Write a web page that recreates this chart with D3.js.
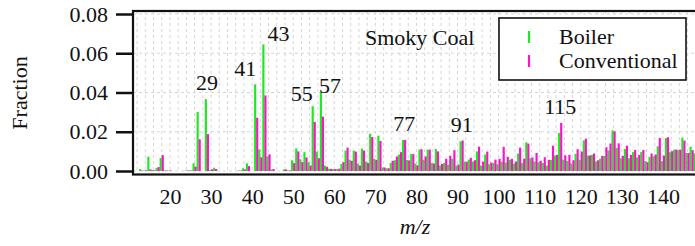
<!DOCTYPE html>
<html>
<head>
<meta charset="utf-8">
<script src="https://cdn.jsdelivr.net/npm/d3@7"></script>
<style>
  body { margin: 0; background: #fff; }
  svg { display: block; }
</style>
</head>
<body>
<div id="chart"></div>
<script>
// m/z channels shown in the spectrum
const mz = [13, 14, 15, 16, 17, 18, 19, 20, 24, 25, 26, 27, 29, 30, 31, 37, 38, 39, 41, 42,
  43, 44, 45, 48, 49, 50, 51, 52, 53, 54, 55, 56, 57, 58, 59, 60, 61, 62, 63, 64,
  65, 66, 67, 68, 69, 70, 71, 72, 73, 74, 75, 76, 77, 78, 79, 80, 81, 82, 83, 84,
  85, 86, 87, 88, 89, 90, 91, 92, 93, 94, 95, 96, 97, 98, 99, 100, 101, 102, 103, 104,
  105, 106, 107, 108, 109, 110, 111, 112, 113, 114, 115, 116, 117, 118, 119, 120, 121, 122, 123, 124,
  125, 126, 127, 128, 129, 130, 131, 132, 133, 134, 135, 136, 137, 138, 139, 140, 141, 142, 143, 144,
  145, 146, 147, 148]

const boiler = [0.0010, 0.0003, 0.0073, 0.0005, 0.0016, 0.0066, 0.0003, 0.0002, 0.0002, 0.0003, 0.0039, 0.0301, 0.0366, 0.0005, 0.0017, 0.0003, 0.0014, 0.0039, 0.0442, 0.0110,
  0.0645, 0.0075, 0.0008, 0.0008, 0.0003, 0.0055, 0.0115, 0.0060, 0.0096, 0.0045, 0.0330, 0.0099, 0.0400, 0.0028, 0.0011, 0.0010, 0.0011, 0.0036, 0.0104, 0.0058,
  0.0104, 0.0038, 0.0114, 0.0048, 0.0190, 0.0062, 0.0180, 0.0018, 0.0014, 0.0041, 0.0055, 0.0084, 0.0158, 0.0056, 0.0086, 0.0038, 0.0109, 0.0058, 0.0109, 0.0041,
  0.0112, 0.0028, 0.0041, 0.0033, 0.0062, 0.0028, 0.0151, 0.0048, 0.0058, 0.0048, 0.0100, 0.0028, 0.0084, 0.0035, 0.0041, 0.0035, 0.0048, 0.0043, 0.0057, 0.0038,
  0.0089, 0.0041, 0.0146, 0.0065, 0.0048, 0.0045, 0.0041, 0.0028, 0.0057, 0.0079, 0.0194, 0.0058, 0.0052, 0.0038, 0.0087, 0.0058, 0.0156, 0.0079, 0.0083, 0.0049,
  0.0063, 0.0077, 0.0105, 0.0207, 0.0118, 0.0065, 0.0112, 0.0065, 0.0096, 0.0069, 0.0097, 0.0050, 0.0072, 0.0075, 0.0126, 0.0050, 0.0168, 0.0096, 0.0109, 0.0106,
  0.0170, 0.0092, 0.0123, 0.0090]

const conventional = [0.0002, 0.0003, 0.0008, 0.0004, 0.0020, 0.0081, 0.0003, 0.0002, 0.0002, 0.0003, 0.0022, 0.0162, 0.0188, 0.0008, 0.0010, 0.0002, 0.0008, 0.0025, 0.0271, 0.0070,
  0.0385, 0.0085, 0.0010, 0.0008, 0.0003, 0.0040, 0.0100, 0.0045, 0.0069, 0.0028, 0.0250, 0.0065, 0.0277, 0.0021, 0.0011, 0.0010, 0.0012, 0.0045, 0.0119, 0.0052,
  0.0099, 0.0028, 0.0104, 0.0041, 0.0173, 0.0057, 0.0153, 0.0018, 0.0014, 0.0052, 0.0074, 0.0096, 0.0158, 0.0054, 0.0086, 0.0029, 0.0111, 0.0074, 0.0109, 0.0038,
  0.0100, 0.0036, 0.0062, 0.0077, 0.0106, 0.0033, 0.0155, 0.0047, 0.0067, 0.0055, 0.0124, 0.0048, 0.0099, 0.0043, 0.0058, 0.0062, 0.0123, 0.0072, 0.0062, 0.0048,
  0.0119, 0.0063, 0.0140, 0.0069, 0.0092, 0.0052, 0.0070, 0.0057, 0.0129, 0.0082, 0.0245, 0.0080, 0.0082, 0.0055, 0.0111, 0.0099, 0.0165, 0.0079, 0.0089, 0.0055,
  0.0077, 0.0121, 0.0140, 0.0202, 0.0141, 0.0077, 0.0129, 0.0082, 0.0107, 0.0082, 0.0107, 0.0045, 0.0089, 0.0084, 0.0168, 0.0079, 0.0172, 0.0101, 0.0109, 0.0109,
  0.0155, 0.0092, 0.0106, 0.0090]

const seriesNames = ['Boiler', 'Conventional']
const peakLabels = [29, 41, 43, 55, 57, 77, 91, 115]
const xTicks = [20, 30, 40, 50, 60, 70, 80, 90, 100, 110, 120, 130, 140]
const yTicks = [0, 0.02, 0.04, 0.06, 0.08]
const title = 'Smoky Coal'

const serif = '"Liberation Serif", "Times New Roman", Times, serif'

function draw(id) {
  const svg = d3.select(`#${id}`).attr('font-family', serif)
  const colors = { Boiler: '#1ee81e', Conventional: '#ff10cc' }
  const frame = { left: 133, top: 11, right: 710, bottom: 174.5 }

  const x = d3.scaleLinear().domain([11, 150]).range([133, 133 + 139 * 4.108])
  const y = d3.scaleLinear().domain([0, 0.08]).range([171, 14])

  // grid
  const grid = svg.append('g').attr('stroke', '#d6d6d6').attr('stroke-width', 1).attr('stroke-dasharray', '3,3')
  grid.selectAll('line.v')
    .data(d3.range(12, 150, 2))
    .join('line')
    .attr('class', 'v')
    .attr('x1', d => x(d)).attr('x2', d => x(d))
    .attr('y1', frame.top).attr('y2', frame.bottom)
  grid.selectAll('line.h')
    .data(yTicks)
    .join('line')
    .attr('class', 'h')
    .attr('x1', frame.left).attr('x2', frame.right)
    .attr('y1', d => y(d)).attr('y2', d => y(d))

  // bars: boiler left of the channel, conventional right
  const rows = mz.map((m, i) => ({ m, b: boiler[i], c: conventional[i] }))
  const bw = 2.15
  svg.append('g').selectAll('rect')
    .data(rows)
    .join('rect')
    .attr('x', d => x(d.m) - bw)
    .attr('y', d => y(d.b))
    .attr('width', bw)
    .attr('height', d => y(0) - y(d.b))
    .attr('fill', colors.Boiler)
  svg.append('g').selectAll('rect')
    .data(rows)
    .join('rect')
    .attr('x', d => x(d.m) - 0.1)
    .attr('y', d => y(d.c))
    .attr('width', bw)
    .attr('height', d => y(0) - y(d.c))
    .attr('fill', colors.Conventional)

  // frame
  svg.append('rect')
    .attr('x', frame.left).attr('y', frame.top)
    .attr('width', frame.right - frame.left)
    .attr('height', frame.bottom - frame.top)
    .attr('fill', 'none').attr('stroke', '#111').attr('stroke-width', 2.2)

  // axes
  const yAxis = svg.append('g')
    .attr('transform', `translate(${frame.left - 1},0)`)
    .call(d3.axisLeft(y).tickValues(yTicks).tickSize(16).tickPadding(8).tickFormat(d3.format('.2f')))
    .attr('font-family', serif).attr('font-size', 22)
  yAxis.select('.domain').remove()
  yAxis.selectAll('line').attr('stroke', '#111').attr('stroke-width', 2.5)
  yAxis.selectAll('text').attr('fill', '#111')

  const xAxis = svg.append('g')
    .attr('transform', `translate(0,${frame.bottom})`)
    .call(d3.axisBottom(x).tickValues(xTicks).tickSize(0).tickPadding(14))
    .attr('font-family', serif).attr('font-size', 22)
  xAxis.select('.domain').remove()
  xAxis.selectAll('text').attr('fill', '#111')

  svg.append('text')
    .attr('transform', 'translate(27,93) rotate(-90)')
    .attr('text-anchor', 'middle')
    .attr('font-size', 22).attr('fill', '#111')
    .text('Fraction')

  svg.append('text')
    .attr('x', 415).attr('y', 234)
    .attr('text-anchor', 'middle')
    .attr('font-size', 22).attr('font-style', 'italic').attr('fill', '#111')
    .text('m/z')

  // peak labels
  const nudge = { 41: [-11, 1], 43: [14, 6], 55: [-12, 4], 57: [8, 9] }
  svg.append('g').selectAll('text')
    .data(peakLabels)
    .join('text')
    .attr('x', d => x(d) + (nudge[d] ? nudge[d][0] : 0))
    .attr('y', d => {
      const i = mz.indexOf(d)
      return y(Math.max(boiler[i], conventional[i])) - 9 + (nudge[d] ? nudge[d][1] : 0)
    })
    .attr('text-anchor', 'middle')
    .attr('font-size', 22).attr('fill', '#111')
    .text(d => d)

  svg.append('text')
    .attr('x', 365).attr('y', 45)
    .attr('font-size', 22).attr('fill', '#111')
    .text(title)

  // legend
  const lg = svg.append('g')
  lg.append('rect')
    .attr('x', 499).attr('y', 18).attr('width', 187).attr('height', 62)
    .attr('fill', '#fff').attr('stroke', '#111').attr('stroke-width', 1.6)
  seriesNames.forEach((name, i) => {
    lg.append('line')
      .attr('x1', 529).attr('x2', 529)
      .attr('y1', 31 + i * 24).attr('y2', 43 + i * 24)
      .attr('stroke', colors[name]).attr('stroke-width', 2.2)
    lg.append('text')
      .attr('x', 559).attr('y', 44 + i * 24)
      .attr('font-size', 22).attr('fill', '#111')
      .text(name)
  })
}

const width = 695
const height = 246
document.getElementById('chart').innerHTML =
  `<svg id="chart-svg" width="${width}" height="${height}" viewBox="0 0 ${width} ${height}"></svg>`
draw('chart-svg')
</script>
</body>
</html>
